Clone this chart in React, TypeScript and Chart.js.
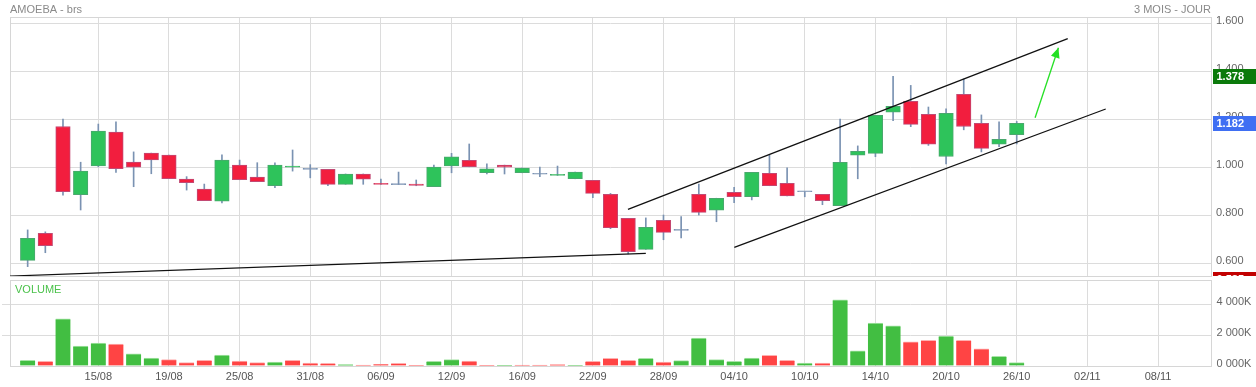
import React, { useEffect, useRef } from 'react';
import { Chart, registerables } from 'chart.js';

Chart.register(...registerables);

const FONT = "'Liberation Sans', Arial, Helvetica, sans-serif";
Chart.defaults.font.family = FONT;

// ---- DATA ----
const opens = [
  0.611, 0.724, 1.169, 0.885, 1.005, 1.146, 1.021, 1.058, 1.050, 0.950,
  0.908, 0.858, 1.008, 0.958, 0.922, 0.999, 0.990, 0.990, 0.928, 0.971,
  0.932, 0.927, 0.929, 0.918, 1.005, 1.028, 0.976, 1.008, 0.976, 0.970,
  0.965, 0.951, 0.945, 0.886, 0.786, 0.657, 0.778, 0.736, 0.886, 0.820,
  0.895, 0.876, 0.974, 0.932, 0.897, 0.886, 0.839, 1.049, 1.057, 1.228,
  1.274, 1.220, 1.044, 1.303, 1.182, 1.095, 1.135,
];
const highs = [
  0.738, 0.730, 1.200, 1.020, 1.179, 1.188, 1.063, 1.058, 1.050, 0.960,
  0.929, 1.051, 1.029, 1.018, 1.017, 1.071, 1.010, 0.990, 0.971, 0.971,
  0.950, 0.979, 0.946, 1.008, 1.057, 1.096, 1.013, 1.008, 0.996, 1.000,
  1.004, 0.979, 0.945, 0.890, 0.786, 0.788, 0.800, 0.794, 0.929, 0.870,
  0.915, 0.978, 1.049, 0.997, 0.897, 0.886, 1.200, 1.088, 1.215, 1.378,
  1.340, 1.250, 1.242, 1.367, 1.217, 1.188, 1.190,
];
const lows = [
  0.585, 0.643, 0.883, 0.821, 1.001, 0.978, 0.918, 0.972, 0.951, 0.904,
  0.860, 0.850, 0.947, 0.939, 0.914, 0.983, 0.955, 0.922, 0.928, 0.928,
  0.928, 0.927, 0.922, 0.918, 0.976, 1.001, 0.971, 0.971, 0.976, 0.960,
  0.965, 0.951, 0.872, 0.743, 0.638, 0.657, 0.697, 0.705, 0.800, 0.772,
  0.851, 0.863, 0.922, 0.880, 0.876, 0.843, 0.839, 0.951, 1.043, 1.193,
  1.168, 1.090, 1.013, 1.155, 1.063, 1.085, 1.096,
];
const closes = [
  0.703, 0.672, 0.897, 0.983, 1.150, 0.993, 0.999, 1.030, 0.951, 0.935,
  0.860, 1.029, 0.947, 0.939, 1.008, 1.004, 0.990, 0.928, 0.971, 0.949,
  0.928, 0.927, 0.923, 1.000, 1.042, 1.001, 0.992, 0.999, 0.996, 0.970,
  0.968, 0.979, 0.890, 0.747, 0.647, 0.749, 0.728, 0.736, 0.811, 0.870,
  0.876, 0.978, 0.922, 0.880, 0.897, 0.860, 1.020, 1.065, 1.215, 1.253,
  1.178, 1.095, 1.224, 1.169, 1.078, 1.115, 1.182,
];
// volumes in thousands
const volumesK = [
  366, 301, 3054, 1290, 1484, 1419, 796, 516, 409, 215,
  366, 710, 323, 215, 258, 366, 194, 172, 86, 65,
  108, 172, 43, 301, 409, 323, 43, 43, 65, 65,
  86, 43, 301, 495, 366, 495, 258, 344, 1806, 409,
  301, 516, 688, 366, 194, 194, 4280, 989, 2774, 2602,
  1570, 1656, 1935, 1656, 1118, 624, 215,
];
const dateTickIdx = [4, 8, 12, 16, 20, 24, 28, 32, 36, 40, 44, 48, 52, 56, 60, 64];
const dateTickLabels = [
  '15/08', '19/08', '25/08', '31/08', '06/09', '12/09', '16/09', '22/09',
  '28/09', '04/10', '10/10', '14/10', '20/10', '26/10', '02/11', '08/11',
];
const priceTicks = [0.6, 0.8, 1.0, 1.2, 1.4, 1.6];
const volumeTicksK = [0, 2000, 4000];
// hand-drawn trend lines: [index, price] pairs
const trendLower = [[-1, 0.5458], [35.0, 0.6404]];
const channelUpper = [[33.99, 0.8238], [58.89, 1.5346]];
const channelLower = [[40.01, 0.6654], [61.04, 1.2417]];
const arrowLine = [[57.04, 1.2054], [58.36, 1.497]];

const TITLE_LEFT = 'AMOEBA - brs';
const TITLE_RIGHT = '3 MOIS - JOUR';
const VOLUME_LABEL = 'VOLUME';

// ---- STYLE ----
const X_MIN = -1;
const X_MAX = 67;
const GRID = '#dcdcdc';
const FRAME = '#d6d6d6';
const UP = '#2ec35b';
const DOWN = '#f21e3e';
const UP_BORDER = '#4aa86e';
const DOWN_BORDER = '#c24a74';
const WICK = '#7a92b2';
const VUP = '#42be42';
const VDOWN = '#ff4444';
const VUP_TOP = '#a8e4a8';
const VDOWN_TOP = '#ffb0b0';
const ARROW = '#22e022';
const TAG_HIGH = '#0b7a0b';
const TAG_LAST = '#3f6ff3';
const TAG_LOW = '#c20000';

const candleColor = (i: number) =>
  closes[i] > opens[i] ? UP : closes[i] < opens[i] ? DOWN : WICK;
const candleBorder = (i: number) =>
  closes[i] > opens[i] ? UP_BORDER : closes[i] < opens[i] ? DOWN_BORDER : WICK;
const volUp = (i: number) => (i === 0 ? closes[0] >= opens[0] : closes[i] >= closes[i - 1]);

const fmtVol = (v: number) => {
  const th = Math.floor(v / 1000);
  const rest = String(Math.round(v % 1000)).padStart(3, '0');
  return `${th} ${rest}K`;
};

const setXTicks = (s: any) => {
  s.ticks = dateTickIdx.map((v) => ({ value: v }));
};

const framePlugin = {
  id: 'frame',
  beforeDatasetsDraw(chart: any) {
    const { ctx, chartArea } = chart;
    ctx.save();
    ctx.strokeStyle = FRAME;
    ctx.lineWidth = 1;
    ctx.strokeRect(
      Math.round(chartArea.left) + 0.5,
      Math.round(chartArea.top) + 0.5,
      Math.round(chartArea.right - chartArea.left),
      Math.round(chartArea.bottom - chartArea.top)
    );
    ctx.restore();
  },
};

const headerPlugin = {
  id: 'header',
  afterDraw(chart: any) {
    const { ctx, chartArea } = chart;
    ctx.save();
    ctx.font = `11px ${FONT}`;
    ctx.fillStyle = '#8a8a8a';
    ctx.textBaseline = 'middle';
    ctx.textAlign = 'left';
    ctx.fillText(TITLE_LEFT, chartArea.left, 9.5);
    ctx.textAlign = 'right';
    ctx.fillText(TITLE_RIGHT, chartArea.right, 9.5);
    ctx.restore();
  },
};

const arrowHeadPlugin = {
  id: 'arrowHead',
  afterDatasetsDraw(chart: any) {
    const { ctx, scales, chartArea } = chart;
    const x0 = scales.x.getPixelForValue(arrowLine[0][0]);
    const y0 = scales.y.getPixelForValue(arrowLine[0][1]);
    const x1 = scales.x.getPixelForValue(arrowLine[1][0]);
    const y1 = scales.y.getPixelForValue(arrowLine[1][1]);
    const ang = Math.atan2(y1 - y0, x1 - x0);
    const len = 10;
    const half = 4.5;
    const bx = x1 - Math.cos(ang) * len;
    const by = y1 - Math.sin(ang) * len;
    const px = -Math.sin(ang) * half;
    const py = Math.cos(ang) * half;
    ctx.save();
    ctx.beginPath();
    ctx.rect(chartArea.left, chartArea.top, chartArea.right - chartArea.left, chartArea.bottom - chartArea.top);
    ctx.clip();
    ctx.fillStyle = ARROW;
    ctx.beginPath();
    ctx.moveTo(x1, y1);
    ctx.lineTo(bx + px, by + py);
    ctx.lineTo(bx - px, by - py);
    ctx.closePath();
    ctx.fill();
    ctx.restore();
  },
};

const tagPlugin = {
  id: 'tags',
  afterDraw(chart: any) {
    const { ctx, chartArea, scales } = chart;
    const y = scales.y;
    const left = chartArea.right + 2;
    const w = chart.width - left;
    const h = 15;
    const tags: { top: number; text: string; color: string }[] = [];
    const hi = Math.max(...highs);
    const last = closes[closes.length - 1];
    const lo = Math.min(...lows);
    tags.push({ top: y.getPixelForValue(hi) - h / 2, text: hi.toFixed(3), color: TAG_HIGH });
    tags.push({ top: y.getPixelForValue(last) - h / 2, text: last.toFixed(3), color: TAG_LAST });
    const loTop = Math.max(y.getPixelForValue(lo) - h / 2, y.getPixelForValue(priceTicks[0]) + 9);
    tags.push({ top: loTop, text: lo.toFixed(3), color: TAG_LOW });
    ctx.save();
    ctx.beginPath();
    ctx.rect(chartArea.right, 0, chart.width - chartArea.right, chartArea.bottom);
    ctx.clip();
    ctx.font = `bold 11px ${FONT}`;
    ctx.textBaseline = 'middle';
    ctx.textAlign = 'left';
    for (const t of tags) {
      const top = Math.round(t.top);
      ctx.fillStyle = t.color;
      ctx.fillRect(left, top, w, h);
      ctx.fillStyle = '#ffffff';
      ctx.fillText(t.text, chartArea.right + 5.5, top + h / 2 + 0.5);
    }
    ctx.restore();
  },
};

const volumePlugin = {
  id: 'volumeDecor',
  afterDraw(chart: any) {
    const { ctx, chartArea, scales } = chart;
    const y = scales.y;
    ctx.save();
    // gridline stubs left of the panel
    ctx.strokeStyle = GRID;
    ctx.lineWidth = 1;
    for (const v of volumeTicksK) {
      if (v === 0) continue;
      const py = Math.round(y.getPixelForValue(v)) + 0.5;
      ctx.beginPath();
      ctx.moveTo(2, py);
      ctx.lineTo(chartArea.left, py);
      ctx.stroke();
    }
    ctx.font = `11px ${FONT}`;
    ctx.fillStyle = '#4cc24c';
    ctx.textBaseline = 'middle';
    ctx.textAlign = 'left';
    ctx.fillText(VOLUME_LABEL, chartArea.left + 5, chartArea.top + 9.5);
    // clipped axis labels
    ctx.beginPath();
    ctx.rect(chartArea.right, chartArea.top, chart.width - chartArea.right, chartArea.bottom - chartArea.top + 1);
    ctx.clip();
    ctx.fillStyle = '#666666';
    for (const v of volumeTicksK) {
      ctx.fillText(fmtVol(v), chartArea.right + 5.5, y.getPixelForValue(v) - 2.5);
    }
    ctx.restore();
  },
};

const noPad = (s: any) => {
  s.paddingTop = 0;
  s.paddingBottom = 0;
  s.paddingLeft = 0;
  s.paddingRight = 0;
};

function buildPriceChart(canvas: HTMLCanvasElement) {
  const lineDs = (pts: number[][], color: string) => ({
    type: 'line' as const,
    data: pts.map(([x, y]) => ({ x, y })),
    borderColor: color,
    borderWidth: 1.3,
    pointRadius: 0,
    tension: 0,
    fill: false,
    order: -2,
  });
  return new Chart(canvas, {
    type: 'bar',
    data: {
      datasets: [
        lineDs(trendLower, '#111111'),
        lineDs(channelUpper, '#111111'),
        lineDs(channelLower, '#111111'),
        lineDs(arrowLine, ARROW),
        {
          type: 'bar',
          data: opens.map((o, i) => ({ x: i, y: [o, closes[i]] })),
          backgroundColor: (c: any) => candleColor(c.dataIndex),
          borderColor: (c: any) => candleBorder(c.dataIndex),
          borderWidth: 1,
          borderSkipped: false,
          barThickness: 14.5,
          grouped: false,
          minBarLength: 1,
          order: 0,
        },
        {
          type: 'bar',
          data: lows.map((l, i) => ({ x: i, y: [l, highs[i]] })),
          backgroundColor: WICK,
          borderWidth: 0,
          barThickness: 1,
          grouped: false,
          order: 1,
        },
      ] as any,
    },
    options: {
      responsive: false,
      animation: false,
      events: [],
      layout: { padding: { top: 17, left: 10, right: 0, bottom: 2 } },
      plugins: { legend: { display: false }, tooltip: { enabled: false } },
      scales: {
        x: {
          type: 'linear',
          min: X_MIN,
          max: X_MAX,
          offset: false,
          grid: { offset: false, color: GRID, drawTicks: false },
          border: { display: false },
          ticks: { display: false },
          afterBuildTicks: setXTicks,
          afterFit: (s: any) => {
            s.height = 0;
            noPad(s);
          },
        },
        y: {
          type: 'linear',
          position: 'right',
          min: 0.546,
          max: 1.625,
          grid: { color: GRID, drawTicks: false },
          border: { display: false },
          ticks: {
            padding: 5,
            labelOffset: -2,
            color: '#666666',
            font: { size: 11, family: FONT },
            callback: (v: any) => Number(v).toFixed(3),
          },
          afterBuildTicks: (s: any) => {
            s.ticks = priceTicks.map((v) => ({ value: v }));
          },
          afterFit: (s: any) => {
            s.width = 45;
            noPad(s);
          },
        },
      },
    } as any,
    plugins: [framePlugin, headerPlugin, arrowHeadPlugin, tagPlugin],
  });
}

function buildVolumeChart(canvas: HTMLCanvasElement) {
  return new Chart(canvas, {
    type: 'bar',
    data: {
      datasets: [
        {
          data: volumesK.map((v, i) => ({ x: i, y: v })),
          backgroundColor: (c: any) => (volUp(c.dataIndex) ? VUP : VDOWN),
          borderColor: (c: any) => (volUp(c.dataIndex) ? VUP_TOP : VDOWN_TOP),
          borderWidth: { top: 1, left: 0, right: 0, bottom: 0 },
          barThickness: 15,
          grouped: false,
        },
      ] as any,
    },
    options: {
      responsive: false,
      animation: false,
      events: [],
      layout: { padding: { top: 2, left: 10, right: 0, bottom: 0 } },
      plugins: { legend: { display: false }, tooltip: { enabled: false } },
      scales: {
        x: {
          type: 'linear',
          min: X_MIN,
          max: X_MAX,
          offset: false,
          grid: { offset: false, color: GRID, drawTicks: false },
          border: { display: false },
          ticks: {
            padding: 4,
            color: '#555555',
            font: { size: 11, family: FONT },
            maxRotation: 0,
            autoSkip: false,
            callback: (v: any) => {
              const k = dateTickIdx.indexOf(Number(v));
              return k >= 0 ? dateTickLabels[k] : '';
            },
          },
          afterBuildTicks: setXTicks,
          afterFit: (s: any) => {
            s.height = 21;
            noPad(s);
          },
        },
        y: {
          type: 'linear',
          position: 'right',
          min: 0,
          max: 5570,
          grid: { color: GRID, drawTicks: false },
          border: { display: false },
          ticks: { display: false },
          afterBuildTicks: (s: any) => {
            s.ticks = volumeTicksK.map((v) => ({ value: v }));
          },
          afterFit: (s: any) => {
            s.width = 45;
            noPad(s);
          },
        },
      },
    } as any,
    plugins: [framePlugin, volumePlugin],
  });
}

export default function App() {
  const priceRef = useRef<HTMLCanvasElement>(null);
  const volRef = useRef<HTMLCanvasElement>(null);
  useEffect(() => {
    const c1 = buildPriceChart(priceRef.current!);
    const c2 = buildVolumeChart(volRef.current!);
    return () => {
      c1.destroy();
      c2.destroy();
    };
  }, []);
  return (
    <div style={{ position: 'absolute', left: 0, top: 0, width: 1256, height: 387, background: '#ffffff' }}>
      <canvas
        ref={priceRef}
        width={1256}
        height={278}
        style={{ position: 'absolute', left: 0, top: 0, width: 1256, height: 278 }}
      />
      <canvas
        ref={volRef}
        width={1256}
        height={109}
        style={{ position: 'absolute', left: 0, top: 278, width: 1256, height: 109 }}
      />
    </div>
  );
}
